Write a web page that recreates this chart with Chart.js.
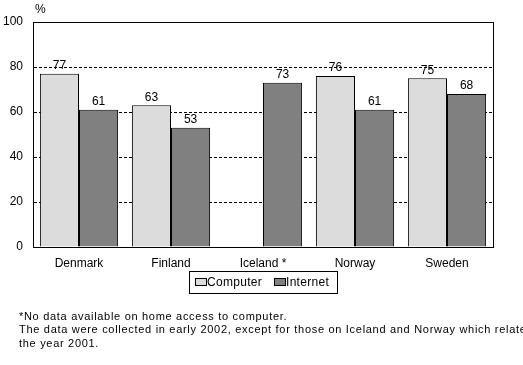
<!DOCTYPE html>
<html>
<head>
<meta charset="utf-8">
<script src="https://cdn.jsdelivr.net/npm/chart.js@4"></script>
<style>
  html, body { margin: 0; padding: 0; background: #fff; }
  #wrap { width: 523px; height: 365px; position: relative; }
</style>
</head>
<body>
<div id="wrap"><canvas id="accessChart" width="523" height="365"></canvas></div>
<script>
const countries = ['Denmark', 'Finland', 'Iceland *', 'Norway', 'Sweden'];
const computerValues = [77, 63, null, 76, 75];
const internetValues = [61, 53, 73, 61, 68];
const yTicks = [0, 20, 40, 60, 80, 100];
const footnotes = [
  '*No data available on home access to computer.',
  'The data were collected in early 2002, except for those on Iceland and Norway which relate to',
  'the year 2001.'
];

const FONT = '12px "Liberation Sans", Arial, sans-serif';

// labels on top of bars, border round the plot, legend box and footnotes
const extras = {
  id: 'extras',
  afterDatasetsDraw(chart) {
    const ctx = chart.ctx;
    const area = chart.chartArea;
    ctx.save();
    ctx.font = FONT;
    ctx.fillStyle = '#000';
    ctx.textAlign = 'center';
    ctx.textBaseline = 'bottom';
    chart.data.datasets.forEach((ds, i) => {
      chart.getDatasetMeta(i).data.forEach((bar, j) => {
        if (ds.data[j] == null) return;
        ctx.fillText(String(ds.data[j]), bar.x, bar.y - 2);
      });
    });

    ctx.strokeStyle = '#000';
    ctx.lineWidth = 1;
    ctx.strokeRect(Math.round(area.left) + 0.5, Math.round(area.top) + 0.5,
      Math.round(area.right - area.left), Math.round(area.bottom - area.top));

    // % unit label
    ctx.textAlign = 'left';
    ctx.textBaseline = 'middle';
    ctx.fillText('%', area.left + 2, area.top - 12);

    // legend
    const lx = 189, ly = 271, lw = 148, lh = 22;
    ctx.strokeRect(lx + 0.5, ly + 0.5, lw, lh);
    const items = [
      { label: chart.data.datasets[0].label, color: chart.data.datasets[0].backgroundColor, x: 195 },
      { label: chart.data.datasets[1].label, color: chart.data.datasets[1].backgroundColor, x: 274 }
    ];
    ctx.letterSpacing = '0.3px';
    items.forEach(it => {
      ctx.fillStyle = it.color;
      ctx.fillRect(it.x, ly + 7, 11, 7);
      ctx.strokeRect(it.x + 0.5, ly + 7.5, 11, 7);
      ctx.fillStyle = '#000';
      ctx.fillText(it.label, it.x + 12, ly + 12);
    });

    // footnotes
    ctx.font = '11px "Liberation Sans", Arial, sans-serif';
    ctx.letterSpacing = '0.7px';
    footnotes.forEach((t, k) => {
      ctx.fillText(t, 19, 317 + k * 13.3);
    });
    ctx.restore();
  }
};

new Chart(document.getElementById('accessChart'), {
  type: 'bar',
  data: {
    labels: countries,
    datasets: [
      {
        label: 'Computer',
        data: computerValues,
        backgroundColor: '#dcdcdc',
        borderColor: '#000',
        borderWidth: 1,
        borderSkipped: 'bottom'
      },
      {
        label: 'Internet',
        data: internetValues,
        backgroundColor: '#808080',
        borderColor: '#000',
        borderWidth: 1,
        borderSkipped: 'bottom'
      }
    ]
  },
  options: {
    responsive: false,
    animation: false,
    events: [],
    layout: { padding: { top: 22, right: 30, bottom: 94, left: 0 } },
    plugins: {
      legend: { display: false },
      tooltip: { enabled: false }
    },
    datasets: {
      bar: { categoryPercentage: 0.85, barPercentage: 1.0 }
    },
    scales: {
      x: {
        grid: { display: false, drawTicks: false },
        border: { color: '#000', width: 1 },
        ticks: { color: '#000', font: { family: '"Liberation Sans", Arial, sans-serif', size: 12 }, padding: 9, maxRotation: 0 },
        afterFit(scale) { scale.height = 24; }
      },
      y: {
        min: 0,
        max: 100,
        afterBuildTicks(scale) { scale.ticks = yTicks.map(v => ({ value: v })); },
        grid: {
          color: ctx => (ctx.tick && (ctx.tick.value === 0 || ctx.tick.value === 100)) ? 'rgba(0,0,0,0)' : '#000',
          drawTicks: false,
          lineWidth: 1
        },
        border: { color: '#000', width: 1, dash: [3, 2] },
        ticks: { color: '#000', font: { family: '"Liberation Sans", Arial, sans-serif', size: 12 }, padding: 10 },
        afterFit(scale) { scale.width = 33; }
      }
    }
  },
  plugins: [extras]
});
</script>
</body>
</html>
